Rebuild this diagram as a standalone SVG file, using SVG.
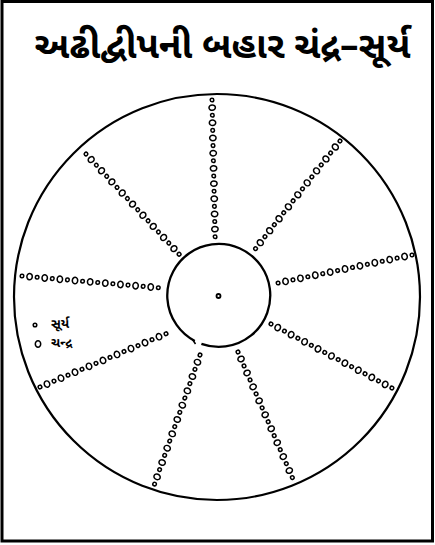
<svg xmlns="http://www.w3.org/2000/svg" xmlns:xlink="http://www.w3.org/1999/xlink" width="435" height="545" viewBox="0 0 435 545">
<style>
.ln{fill:none;stroke:#000}
.s{fill:#fff;stroke:#000;stroke-width:1.5}
.title{font-family:"Noto Sans Gujarati","Lohit Gujarati","Noto Sans",sans-serif;font-weight:bold;font-size:37px;fill:#000}
.lg{font-family:"Noto Sans Gujarati","Lohit Gujarati","Noto Sans",sans-serif;font-weight:bold;font-size:13px;fill:#000}
</style>
<defs>
<circle id="sm" r="1.8" class="s"/>
<ellipse id="bg" rx="2.7" ry="3.2" class="s"/>
<g id="row">
<use href="#sm" x="0"/><use href="#bg" x="7.6"/><use href="#sm" x="15.2"/><use href="#bg" x="22.8"/><use href="#sm" x="30.4"/><use href="#bg" x="38"/><use href="#sm" x="45.6"/><use href="#bg" x="53.2"/><use href="#sm" x="60.8"/><use href="#bg" x="68.4"/><use href="#sm" x="76"/><use href="#bg" x="83.6"/><use href="#sm" x="91.2"/><use href="#bg" x="98.8"/><use href="#sm" x="106.4"/><use href="#bg" x="114"/><use href="#sm" x="121.6"/><use href="#bg" x="129.2"/><use href="#sm" x="136.8"/>
</g>
</defs>
<rect x="2" y="1.5" width="430.5" height="539.5" class="ln" stroke-width="3"/>
<g id="title"><text class="title" x="222.5" y="58" text-anchor="middle">અઢીદ્વીપની બહાર ચંદ્ર–સૂર્ય</text></g>
<g id="outer-circle"><circle cx="217" cy="297" r="203" class="ln" stroke-width="2.2"/></g>
<g id="inner-circle"><path d="M194.8,341 A51.5,51.5 0 1 1 201.4,343.9" class="ln" stroke-width="2.3"/><path d="M192.5,339.5 L195.5,344" class="ln" stroke-width="1.5"/></g>
<g id="center"><circle cx="218.5" cy="296" r="2" class="ln" stroke-width="1.8"/></g>
<g id="rows">
<use href="#row" transform="translate(212,100) rotate(88.7)"/>
<use href="#row" transform="translate(86,154) rotate(47.1)"/>
<use href="#row" transform="translate(340,141) rotate(128.1)"/>
<use href="#row" transform="translate(412,255) rotate(168.2)"/>
<use href="#row" transform="translate(22,276) rotate(4.9)"/>
<use href="#row" transform="translate(40,387) rotate(-22.9)"/>
<use href="#row" transform="translate(200,355) rotate(109.4)"/>
<use href="#row" transform="translate(238,352) rotate(66.6)"/>
<use href="#row" transform="translate(271,324) rotate(27.9)"/>
</g>
<g id="legend">
<use href="#sm" x="35" y="325"/>
<text class="lg" x="51" y="328">સૂર્ય</text>
<use href="#bg" x="38" y="344"/>
<text class="lg" x="51" y="347">ચન્દ્ર</text>
</g>
</svg>
